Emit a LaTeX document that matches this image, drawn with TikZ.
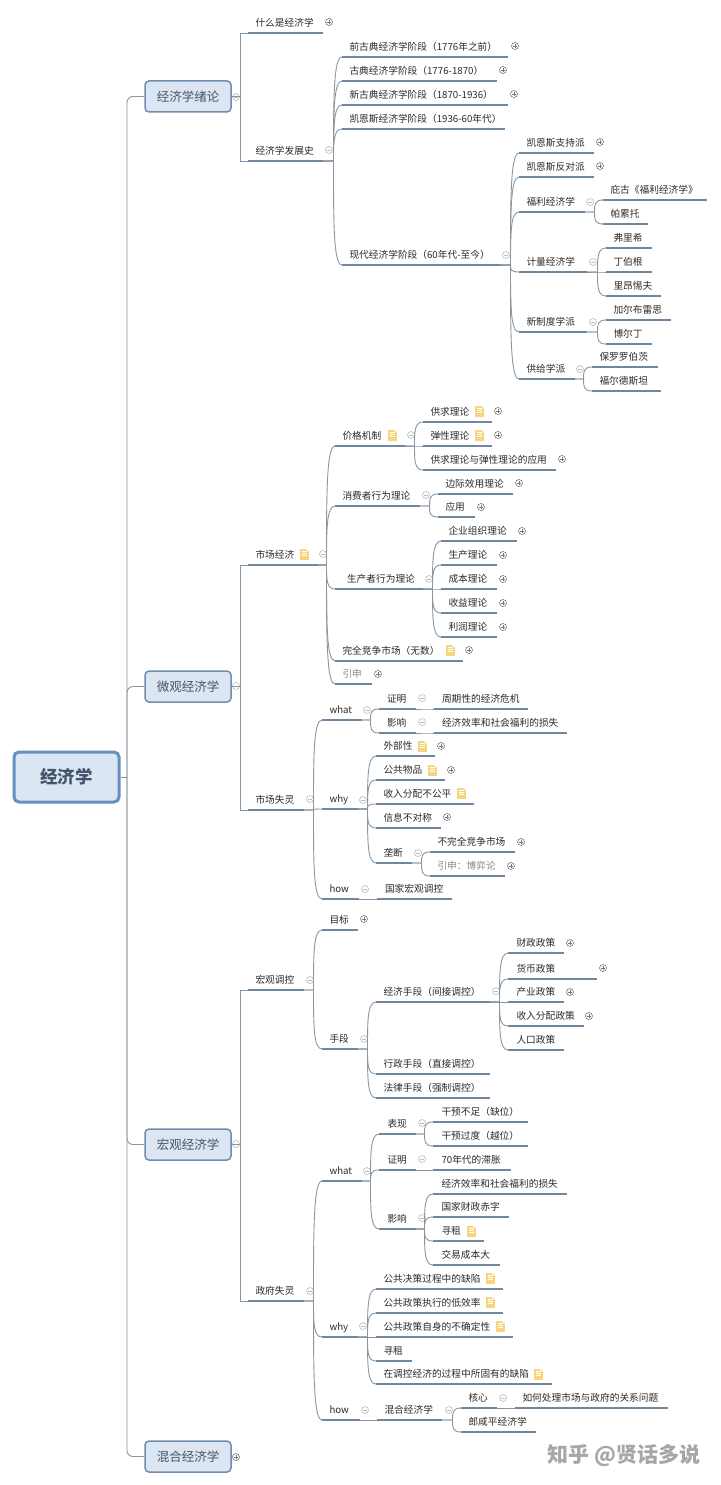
\documentclass[tikz,border=0pt]{standalone}
\usepackage{fontspec}
\setmainfont{Noto Sans CJK SC}
\usetikzlibrary{calc}
\definecolor{txt}{HTML}{2B2B2B}
\definecolor{gtxt}{HTML}{8A8A8A}
\definecolor{uln}{HTML}{6F889F}
\definecolor{cnn}{HTML}{8C969E}
\definecolor{boxfill}{HTML}{DCE6F2}
\definecolor{boxedge}{HTML}{6E8DB0}
\definecolor{rootedge}{HTML}{6590C0}
\definecolor{boxtxt}{HTML}{44546A}
\definecolor{notefill}{HTML}{F5D67F}
\definecolor{mkplus}{HTML}{777777}
\definecolor{mkminus}{HTML}{BBBBBB}
\newcounter{mk}
\tikzset{
  topic/.style={anchor=south west,inner sep=0pt,outer sep=0pt,minimum height=20pt,text height=8.5pt,text depth=1.5pt,text=txt,font=\fontsize{9.7pt}{11pt}\selectfont},
  uline/.style={draw=uln,line width=1.9pt},
  conn/.style={draw=cnn,line width=0.9pt},
  mainbox/.style={draw=boxedge,line width=1.5pt,fill=boxfill,rounded corners=4pt,minimum width=86pt,minimum height=31pt,inner sep=0pt,text=boxtxt,font=\fontsize{12.5pt}{14pt}\selectfont},
  rootbox/.style={draw=rootedge,line width=3pt,fill=boxfill,rounded corners=5pt,minimum width=105pt,minimum height=50pt,inner sep=0pt,text=boxtxt,font=\fontsize{17.5pt}{20pt}\selectfont\bfseries},
  plusmark/.style={circle,draw=mkplus,line width=0.6pt,minimum size=7pt,inner sep=0pt,path picture={\draw[mkplus,line width=0.6pt] ($(path picture bounding box.center)+(-2pt,0)$)--($(path picture bounding box.center)+(2pt,0)$) ($(path picture bounding box.center)+(0,-2pt)$)--($(path picture bounding box.center)+(0,2pt)$);}},
  minusmark/.style={circle,draw=mkminus,line width=0.6pt,minimum size=7pt,inner sep=0pt,path picture={\draw[mkminus,line width=0.6pt] ($(path picture bounding box.center)+(-2pt,0)$)--($(path picture bounding box.center)+(2pt,0)$);}},
  noteicon/.style={rectangle,fill=notefill,minimum width=9pt,minimum height=11pt,inner sep=0pt,path picture={\draw[white,line width=0.5pt] ($(path picture bounding box.center)+(-2.5pt,-1pt)$)--++(5pt,0) ($(path picture bounding box.center)+(-2.5pt,1pt)$)--++(5pt,0) ($(path picture bounding box.center)+(-2.5pt,3pt)$)--++(5pt,0);\fill[white] ($(path picture bounding box.north east)+(-3pt,0)$)--(path picture bounding box.north east)--($(path picture bounding box.north east)+(0,-3pt)$)--cycle;}},
  mark text/.style={text=gray!70,font=\fontsize{21pt}{23pt}\selectfont\bfseries}
}
% topic: name, x0, x1, underline y, text
\newcommand{\tn}[6][7.5]{%
  \node[topic] (#2) at (#3,#5) {\makebox[\dimexpr #4pt-#3pt\relax][l]{\hspace{#1pt}#6}};
  \draw[uline] (#2.south west) -- (#2.south east);}
\newcommand{\pl}[2]{\stepcounter{mk}\node[plusmark] (mk\themk) at (#1,#2) {};}
\newcommand{\mi}[2]{\stepcounter{mk}\node[minusmark] (mk\themk) at (#1,#2) {};}
\newcommand{\nt}[2]{\stepcounter{mk}\node[noteicon] (mk\themk) at (#1,#2) {};}
% curved connector parent to child
\newcommand{\cn}[2]{%
  \coordinate (tmpE) at ($(#2.south west)+(-8.5,0)$);
  \coordinate (tmpM) at (tmpE |- #1.south east);
  \draw[conn] (#1.south east) -- (tmpM)
    .. controls ($(tmpM)!0.6!(tmpE)$) and (tmpE) .. (#2.south west);}
% square connector from main box to child
\newcommand{\cb}[2]{\draw[conn] (#1.east) -| ($(#2.south west)+(-8,0)$) -- (#2.south west);}
\newcommand{\spn}[1]{\draw[conn,rounded corners=6pt] (spine) |- (#1.west);}
\begin{document}
\begin{tikzpicture}[x=1pt,y=-1pt]
\useasboundingbox (0,0) rectangle (720,1485);
\fill[white] (0,0) rectangle (720,1485);
% main
\node[rootbox] (root) at (66.5,777) {经济学};
\node[mainbox] (a) at (188,96.5) {经济学绪论};
\node[mainbox] (b) at (188,686.5) {微观经济学};
\node[mainbox] (c) at (188,1144.5) {宏观经济学};
\node[mainbox] (d) at (188,1456.5) {混合经济学};
\coordinate (spine) at (127,777);
\draw[conn] (root.east) -- (spine);
\spn{a}\spn{b}\spn{c}\spn{d}
\mi{236}{97}\mi{236}{686}\mi{236}{1144}\pl{236}{1457}
% ---- A
\tn{a1}{248}{323}{33}{什么是经济学}\pl{329}{22}
\tn{a2}{248}{323}{161}{经济学发展史}\mi{329}{150}
\cb{a}{a1}\cb{a}{a2}
\tn{a21}{342}{508}{57}{前古典经济学阶段（1776年之前）}\pl{515}{46}
\tn{a22}{342}{497}{81}{古典经济学阶段（1776-1870）}\pl{503}{70}
\tn{a23}{342}{508}{105}{新古典经济学阶段（1870-1936）}\pl{514}{94}
\tn{a24}{342}{505}{129}{凯恩斯经济学阶段（1936-60年代）}
\tn{a25}{342}{500}{265}{现代经济学阶段（60年代-至今）}\mi{506}{255}
\cn{a2}{a21}\cn{a2}{a22}\cn{a2}{a23}\cn{a2}{a24}\cn{a2}{a25}
\tn{e1}{519}{594}{153}{凯恩斯支持派}\pl{600}{142}
\tn{e2}{519}{594}{177}{凯恩斯反对派}\pl{600}{166}
\tn{e3}{519}{585}{212}{福利经济学}\mi{590}{202}
\tn{e4}{519}{587}{272}{计量经济学}\mi{593}{262}
\tn{e5}{519}{587}{332}{新制度学派}\mi{593}{322}
\tn{e6}{519}{575}{379}{供给学派}\mi{580}{369}
\cn{a25}{e1}\cn{a25}{e2}\cn{a25}{e3}\cn{a25}{e4}\cn{a25}{e5}\cn{a25}{e6}
\tn{e31}{603}{707}{200}{庇古《福利经济学》}
\tn{e32}{603}{648}{224}{帕累托}
\cn{e3}{e31}\cn{e3}{e32}
\tn{e41}{606}{652}{248}{弗里希}
\tn{e42}{606}{652}{272}{丁伯根}
\tn{e43}{606}{661}{296}{里昂惕夫}
\cn{e4}{e41}\cn{e4}{e42}\cn{e4}{e43}
\tn{e51}{606}{671}{320}{加尔布雷思}
\tn{e52}{606}{652}{344}{博尔丁}
\cn{e5}{e51}\cn{e5}{e52}
\tn{e61}{592}{658}{367}{保罗罗伯茨}
\tn{e62}{592}{661}{391}{福尔德斯坦}
\cn{e6}{e61}\cn{e6}{e62}
% ---- B
\tn{b1}{248}{318}{565}{市场经济}\nt{304}{554}\mi{323}{554}
\tn{b2}{248}{304}{810}{市场失灵}\mi{310}{799}
\cb{b}{b1}\cb{b}{b2}
\tn{f1}{335}{405}{446}{价格机制}\nt{392}{435}\mi{411}{435}
\tn{f2}{335}{420}{506}{消费者行为理论}\mi{426}{495}
\tn[12]{f3}{335}{423}{589}{生产者行为理论}\mi{429}{579}
\tn{f4}{335}{463}{661}{完全竞争市场（无数）}\nt{450}{650}\pl{469}{650}
\tn{f5}{335}{372}{684}{\color{gtxt}引申}\pl{378}{674}
\cn{b1}{f1}\cn{b1}{f2}\cn{b1}{f3}\cn{b1}{f4}\cn{b1}{f5}
\tn{f11}{423}{492}{422}{供求理论}\nt{479}{411}\pl{498}{411}
\tn{f12}{423}{492}{446}{弹性理论}\nt{479}{435}\pl{498}{435}
\tn{f13}{423}{556}{470}{供求理论与弹性理论的应用}\pl{562}{459}
\cn{f1}{f11}\cn{f1}{f12}\cn{f1}{f13}
\tn{f21}{438}{513}{494}{边际效用理论}\pl{519}{483}
\tn{f22}{438}{475}{517}{应用}\pl{481}{507}
\cn{f2}{f21}\cn{f2}{f22}
\tn{f31}{441}{517}{541}{企业组织理论}\pl{522}{531}
\tn{f32}{441}{497}{565}{生产理论}\pl{503}{555}
\tn{f33}{441}{497}{589}{成本理论}\pl{503}{579}
\tn{f34}{441}{497}{613}{收益理论}\pl{503}{603}
\tn{f35}{441}{497}{637}{利润理论}\pl{503}{627}
\cn{f3}{f31}\cn{f3}{f32}\cn{f3}{f33}\cn{f3}{f34}\cn{f3}{f35}
\tn{g1}{322}{362}{720}{what}\mi{367}{710}
\tn{g2}{322}{358}{809}{why}\mi{363}{800}
\tn{g3}{322}{359}{899}{how}\mi{365}{889}
\cn{b2}{g1}\cn{b2}{g2}\cn{b2}{g3}
\tn[8]{g11}{379}{416}{709}{证明}\mi{422}{698}
\tn[8]{g12}{379}{416}{733}{影响}\mi{422}{722}
\cn{g1}{g11}\cn{g1}{g12}
\tn[8]{g111}{434}{528}{709}{周期性的经济危机}
\tn[8]{g121}{434}{567}{733}{经济效率和社会福利的损失}
\cn{g11}{g111}\cn{g12}{g121}
\tn{g21}{376}{435}{756}{外部性}\nt{422}{746}\pl{441}{746}
\tn{g22}{376}{445}{780}{公共物品}\nt{432}{770}\pl{451}{770}
\tn{g23}{376}{474}{804}{收入分配不公平}\nt{461}{793}
\tn{g24}{376}{441}{828}{信息不对称}\pl{447}{817}
\tn{g25}{376}{412}{863}{垄断}\mi{418}{853}
\cn{g2}{g21}\cn{g2}{g22}\cn{g2}{g23}\cn{g2}{g24}\cn{g2}{g25}
\tn{g251}{430}{515}{852}{不完全竞争市场}\pl{521}{842}
\tn{g252}{430}{505}{876}{\color{gtxt}引申：博弈论}\pl{511}{866}
\cn{g25}{g251}\cn{g25}{g252}
\tn[8]{g31}{377}{452}{899}{国家宏观调控}
\cn{g3}{g31}
% ---- C
\tn{c1}{248}{304}{990}{宏观调控}\mi{310}{980}
\tn{c2}{248}{304}{1301}{政府失灵}\mi{310}{1291}
\cb{c}{c1}\cb{c}{c2}
\tn{h1}{322}{358}{930}{目标}\pl{364}{919}
\tn{h2}{322}{358}{1049}{手段}\mi{364}{1039}
\cn{c1}{h1}\cn{c1}{h2}
\tn{h21}{376}{490}{1002}{经济手段（间接调控）}\mi{496}{991}
\tn{h22}{376}{490}{1074}{行政手段（直接调控）}
\tn{h23}{376}{490}{1098}{法律手段（强制调控）}
\cn{h2}{h21}\cn{h2}{h22}\cn{h2}{h23}
\tn[8.5]{h211}{508}{564}{953}{财政政策}\pl{570}{943}
\tn[8.5]{h212}{508}{597}{979}{货币政策}\pl{603}{968}
\tn[8.5]{h213}{508}{564}{1002}{产业政策}\pl{570}{992}
\tn[8.5]{h214}{508}{584}{1026}{收入分配政策}\pl{589}{1016}
\tn[8.5]{h215}{508}{564}{1050}{人口政策}
\cn{h21}{h211}\cn{h21}{h212}\cn{h21}{h213}\cn{h21}{h214}\cn{h21}{h215}
\tn{i1}{322}{362}{1181}{what}\mi{367}{1171}
\tn{i2}{322}{358}{1337}{why}\mi{363}{1326}
\tn{i3}{322}{360}{1420}{how}\mi{365}{1410}
\cn{c2}{i1}\cn{c2}{i2}\cn{c2}{i3}
\tn[8.5]{i11}{379}{416}{1134}{表现}\mi{422}{1123}
\tn[8.5]{i12}{379}{416}{1170}{证明}\mi{422}{1159}
\tn[8.5]{i13}{379}{416}{1229}{影响}\mi{422}{1218}
\cn{i1}{i11}\cn{i1}{i12}\cn{i1}{i13}
\tn[8.5]{i111}{433}{528}{1122}{干预不足（缺位）}
\tn[8.5]{i112}{433}{528}{1146}{干预过度（越位）}
\cn{i11}{i111}\cn{i11}{i112}
\tn[8.5]{i121}{433}{511}{1170}{70年代的滞胀}
\cn{i12}{i121}
\tn[8.5]{i131}{433}{567}{1194}{经济效率和社会福利的损失}
\tn[8.5]{i132}{433}{509}{1217}{国家财政赤字}
\tn[8.5]{i133}{433}{484}{1241}{寻租}\nt{471}{1231}
\tn[8.5]{i134}{433}{500}{1265}{交易成本大}
\cn{i13}{i131}\cn{i13}{i132}\cn{i13}{i133}\cn{i13}{i134}
\tn{i21}{376}{503}{1289}{公共决策过程中的缺陷}\nt{490}{1278}
\tn{i22}{376}{503}{1313}{公共政策执行的低效率}\nt{490}{1302}
\tn{i23}{376}{513}{1337}{公共政策自身的不确定性}\nt{500}{1326}
\tn{i24}{376}{412}{1361}{寻租}
\tn{i25}{376}{552}{1384}{在调控经济的过程中所固有的缺陷}\nt{538}{1374}
\cn{i2}{i21}\cn{i2}{i22}\cn{i2}{i23}\cn{i2}{i24}\cn{i2}{i25}
\tn{i31}{377}{442}{1420}{混合经济学}\mi{449}{1410}
\cn{i3}{i31}
\tn{i311}{461}{497}{1408}{核心}\mi{503}{1398}
\tn{i312}{461}{536}{1432}{郎咸平经济学}
\cn{i31}{i311}\cn{i31}{i312}
\tn{i3111}{515}{668}{1408}{如何处理市场与政府的关系问题}
\cn{i311}{i3111}
\node[mark text,anchor=center] (wm) at (624,1456) {知乎\ @贤话多说};
\end{tikzpicture}
\end{document}
